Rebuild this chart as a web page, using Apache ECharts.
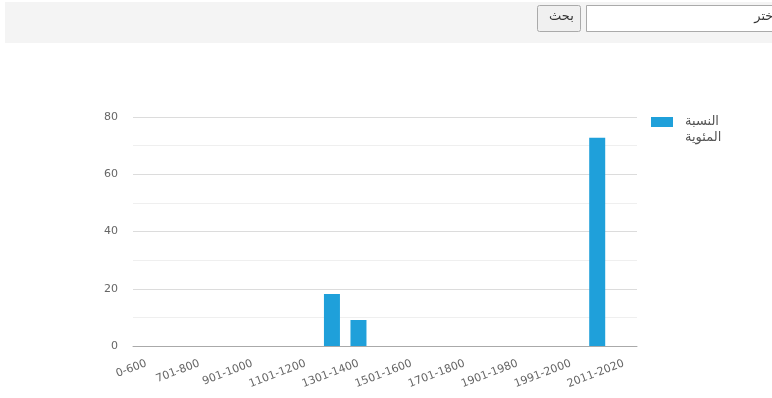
<!DOCTYPE html>
<html><head><meta charset="utf-8">
<script src="https://cdn.jsdelivr.net/npm/echarts@6/dist/echarts.min.js"></script>
<style>html,body{margin:0;padding:0;background:#fff;}#c{width:772px;height:398px;}</style>
</head><body><div id="c"></div>
<script>
const categories = ["0-600","601-700","701-800","801-900","901-1000","1001-1100","1101-1200","1201-1300","1301-1400","1401-1500","1501-1600","1601-1700","1701-1800","1801-1900","1901-1980","1981-1990","1991-2000","2001-2010","2011-2020"];
const values = [0,0,0,0,0,0,0,18.18,9.09,0,0,0,0,0,0,0,0,72.73,0];
const seriesName = "النسبة المئوية";
const searchButton = "بحث";
const searchText = "اختر";

const chart = echarts.init(document.getElementById('c'));
chart.setOption({
  animation: false,
  textStyle: { fontFamily: '"DejaVu Sans", sans-serif' },
  grid: { left: 133, right: 135, top: 117, bottom: 52 },
  legend: {
    left: 651, top: 114, padding: 0, orient: 'vertical', itemWidth: 22, itemHeight: 32, itemGap: 4,
    icon: 'path://M0,3L22,3L22,13L0,13Z M0,0L0.01,0L0,0.01Z M0,32L0.01,32L0,31.99Z',
    formatter: n => n.replace(' ', '\n'),
    textStyle: { fontSize: 13, color: '#555', lineHeight: 16, padding: [0, 0, 0, 7], fontFamily: '"DejaVu Sans", sans-serif' },
    data: [seriesName]
  },
  xAxis: {
    type: 'category', data: categories,
    axisLine: { lineStyle: { color: '#aaa' } },
    axisTick: { show: false },
    axisLabel: { interval: 1, rotate: 21, color: '#666', fontSize: 11, margin: 17 }
  },
  yAxis: {
    type: 'value', min: 0, max: 80, interval: 20,
    axisLabel: { color: '#666', fontSize: 11, margin: 15 },
    splitLine: { lineStyle: { color: '#dcdcdc' } },
    minorTick: { show: false, splitNumber: 2 },
    minorSplitLine: { show: true, lineStyle: { color: '#efefef' } }
  },
  series: [{
    name: seriesName, type: 'bar', data: values, barWidth: 16,
    itemStyle: { color: '#1fa0da' }
  }],
  graphic: [
    { type: 'rect', shape: { x: 5, y: 2, width: 767, height: 41 }, style: { fill: '#f4f4f4' }, z: -1 },
    { type: 'rect', shape: { x: 537.5, y: 5.5, width: 43, height: 26, r: 2 }, style: { fill: '#f0f0f0', stroke: '#aaa', lineWidth: 1 } },
    { type: 'text', left: 549, top: 10, style: { text: searchButton, fontSize: 13, fill: '#333', fontFamily: '"DejaVu Sans", sans-serif' } },
    { type: 'rect', shape: { x: 586.5, y: 5.5, width: 190, height: 26 }, style: { fill: '#fff', stroke: '#aaa', lineWidth: 1 } },
    { type: 'text', x: 777, y: 10, style: { text: searchText, fontSize: 13, fill: '#333', align: 'right', fontFamily: '"DejaVu Sans", sans-serif' } }
  ]
});
</script></body></html>
